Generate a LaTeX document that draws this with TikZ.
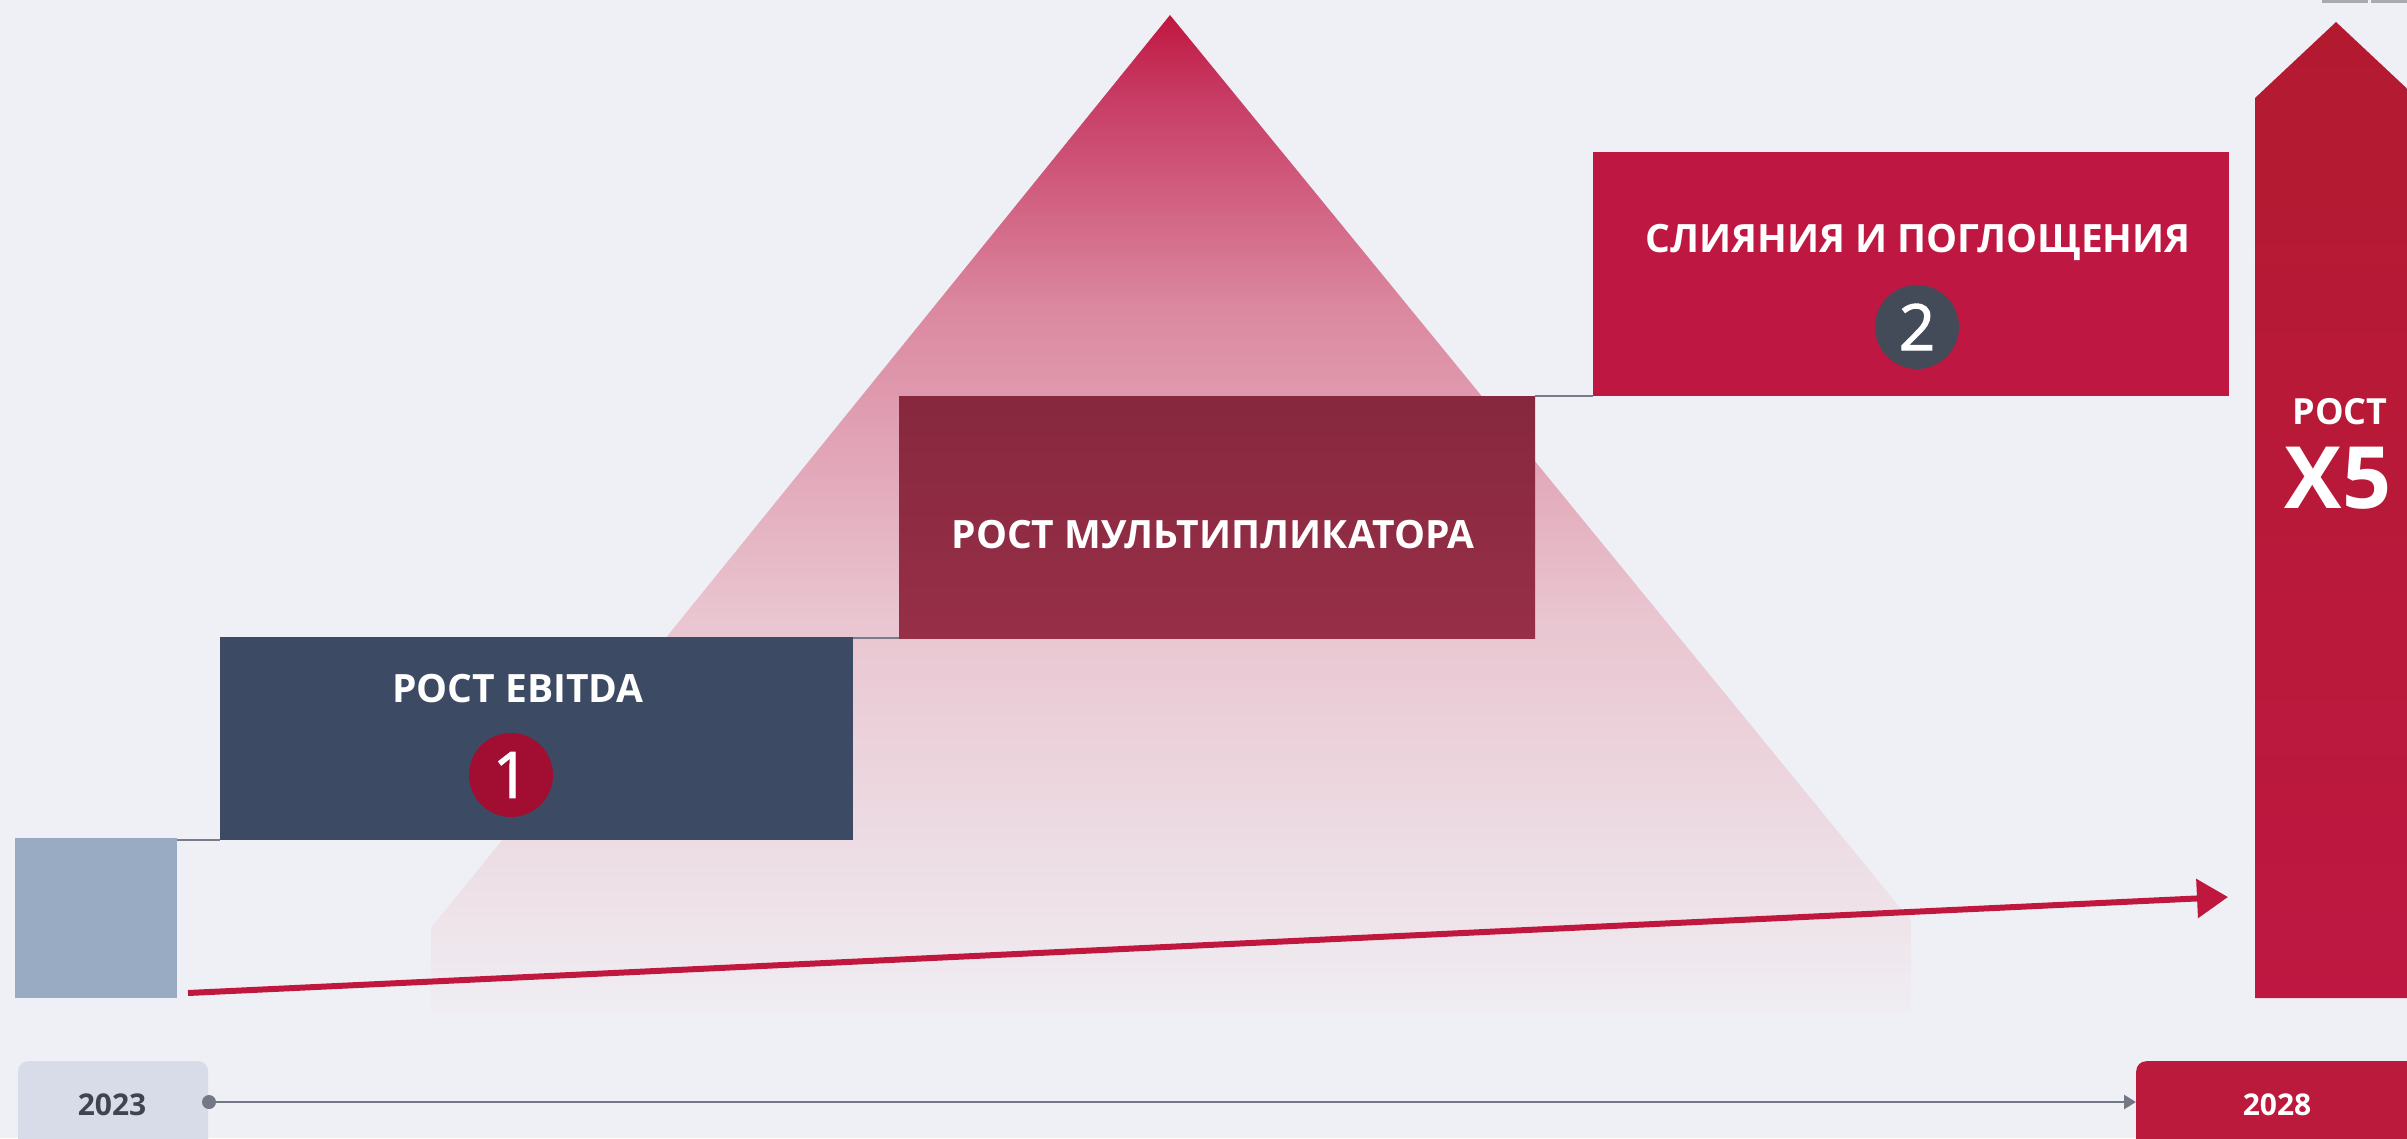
\documentclass[tikz,border=0pt]{standalone}
\usepackage{fontspec}
\setmainfont{Open Sans}
\newfontfamily\digitfont[FakeBold=1.6]{Open Sans}
\usetikzlibrary{arrows.meta,calc}
\definecolor{bg}{HTML}{EFF0F5}
\definecolor{navy}{HTML}{3C4B63}
\definecolor{lightblue}{HTML}{98ABC3}
\definecolor{crimson}{HTML}{BE1842}
\definecolor{wineTop}{HTML}{87283F}
\definecolor{wineBot}{HTML}{962F47}
\definecolor{arrowTop}{HTML}{B31A30}
\definecolor{circA}{HTML}{A10E32}
\definecolor{circB}{HTML}{434B58}
\definecolor{conn}{HTML}{777B8A}
\definecolor{tline}{HTML}{737886}
\definecolor{yearA}{HTML}{D8DCE8}
\definecolor{yearAtxt}{HTML}{3F4452}
\definecolor{yearB}{HTML}{BC1A3C}
\definecolor{redline}{HTML}{C0173F}
\definecolor{topbar}{HTML}{A9A9AE}
\definecolor{pyr0}{HTML}{EFEEF3}
\definecolor{pyr1}{HTML}{EEE4EA}
\definecolor{pyr2}{HTML}{E9C5D0}
\definecolor{pyr3}{HTML}{DB88A0}
\definecolor{pyr4}{HTML}{C73A63}
\definecolor{pyr5}{HTML}{C0173F}
\pgfdeclareverticalshading{pyrshade}{100bp}{color(0bp)=(pyr0); color(25bp)=(pyr0); color(29.7bp)=(pyr1); color(45bp)=(pyr2); color(60.4bp)=(pyr3); color(71.1bp)=(pyr4); color(75bp)=(pyr5); color(100bp)=(pyr5)}
\tikzset{
  block/.style={rectangle, inner sep=0pt, outer sep=0pt, anchor=north west, draw=none},
  lbl/.style={text=white, font=\bfseries\fontsize{39}{39}\selectfont, inner sep=0pt, anchor=base},
  badge/.style={circle, inner sep=0pt, minimum size=84pt, text=white, font=\digitfont\fontsize{64}{64}\selectfont},
  connector/.style={draw=conn, line width=2.5pt},
  yearbox/.style={rectangle, rounded corners=10pt, inner sep=0pt, anchor=north west, minimum width=190pt, minimum height=110pt},
}
\begin{document}
\begin{tikzpicture}[x=1pt,y=-1pt]
\useasboundingbox (0,0) rectangle (2407,1138);
\clip (0,0) rectangle (2407,1138);
\fill[bg] (0,0) rectangle (2407,1138);
% top bars
\fill[topbar] (2322,0) rectangle (2368,2.5);
\fill[topbar] (2371,0) rectangle (2407,2.5);
% pyramid
\shade[shading=pyrshade] (1170,15) -- (1911,921) -- (1911,1015) -- (431,1015) -- (431,928) -- cycle;
% boxes
\node[block, fill=lightblue, minimum width=162pt, minimum height=160pt] (base) at (15,838) {};
\node[block, fill=navy, minimum width=633pt, minimum height=203pt] (ebitda) at (220,637) {};
\node[block, top color=wineTop, bottom color=wineBot, minimum width=636pt, minimum height=242pt] (mult) at (899,396) {};
\node[block, fill=crimson, minimum width=636pt, minimum height=244pt] (ma) at (1593,152) {};
% connectors
\draw[connector] (ebitda.south west) -- (ebitda.south west -| base.east);
\draw[connector] (mult.south west) -- (mult.south west -| ebitda.east);
\draw[connector] (ma.south west) -- (ma.south west -| mult.east);
% labels
\node[lbl] (t1) at (518,702) {РОСТ EBITDA};
\node[badge, fill=circA] (c1) at (511,775) {1};
\node[lbl] (t2) at (1213,548) {РОСТ МУЛЬТИПЛИКАТОРА};
\node[lbl] (t3) at (1918,252) {СЛИЯНИЯ И ПОГЛОЩЕНИЯ};
\node[badge, fill=circB] (c2) at (1917,327) {2};
% big arrow
\shade[top color=arrowTop, bottom color=crimson] (2255,998) -- (2255,98) -- (2336,22) -- (2417,98) -- (2417,998) -- cycle;
\node[text=white, font=\bfseries\fontsize{36}{36}\selectfont, inner sep=0pt, anchor=base] (r1) at (2340,424) {РОСТ};
\node[text=white, font=\bfseries\fontsize{86}{86}\selectfont, inner sep=0pt, anchor=base] (r2) at (2338,508) {X5};
% red arrow
\coordinate (ra) at (188,993);
\coordinate (rb) at (2228,897);
\draw[redline, line width=6pt, -{Triangle[length=31pt,width=38pt]}] (ra) -- (rb);
% timeline
\node[yearbox, fill=yearA] (y1) at (18,1061) {};
\node[yearbox, fill=yearB, minimum width=290pt] (y2) at (2136,1061) {};
\node[text=yearAtxt, font=\bfseries\fontsize{30}{30}\selectfont, inner sep=0pt, anchor=base] (y1t) at (112,1115) {2023};
\node[text=white, font=\bfseries\fontsize{30}{30}\selectfont, inner sep=0pt, anchor=base] (y2t) at (2277,1115) {2028};
\node[circle, fill=tline, minimum size=14pt, inner sep=0pt] (dot) at (209,1102) {};
\draw[tline, line width=2.5pt, -{Triangle[length=12pt,width=14pt]}] (dot.center) -- (dot.center -| y2.west);
\end{tikzpicture}
\end{document}
